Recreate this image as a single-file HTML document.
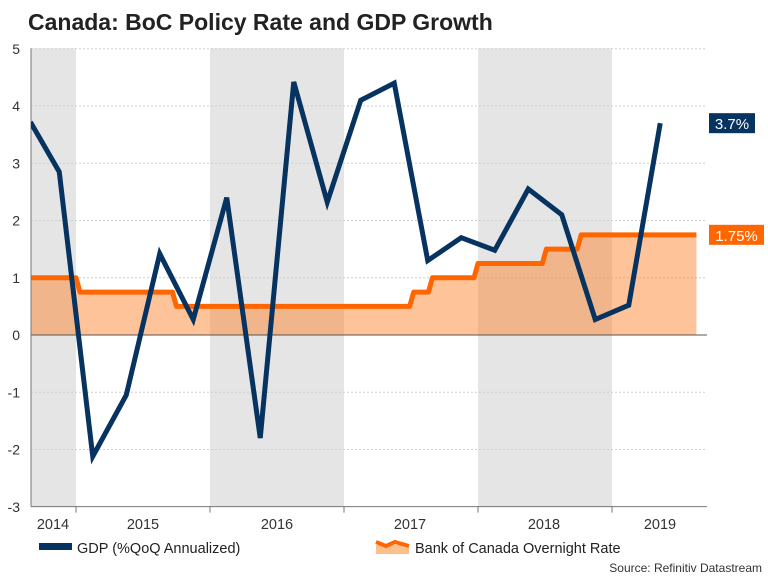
<!DOCTYPE html>
<html><head><meta charset="utf-8"><style>
body{margin:0;background:#fff;font-family:"Liberation Sans",sans-serif}
svg text{font-family:"Liberation Sans",sans-serif}
</style></head><body>
<svg id="c" width="768" height="576" viewBox="0 0 768 576">
<text x="28" y="30" font-size="23" font-weight="bold" fill="#222">Canada: BoC Policy Rate and GDP Growth</text>
</svg>
<script>
const yTicks=[5,4,3,2,1,0,-1,-2,-3];
const years=["2014","2015","2016","2017","2018","2019"];
const shadeBands=[[2014.66,2015],[2016,2017],[2018,2019]];
const gdpDates=[2014.66,2014.875,2015.125,2015.375,2015.625,2015.875,2016.125,2016.375,2016.625,2016.875,2017.125,2017.375,2017.625,2017.875,2018.125,2018.375,2018.625,2018.875,2019.125,2019.36];
const gdpValues=[3.72,2.85,-2.12,-1.05,1.42,0.27,2.4,-1.8,4.42,2.32,4.1,4.4,1.3,1.7,1.48,2.55,2.1,0.27,0.52,3.7];
const rateDates=[2014.66,2015.03,2015.75,2017.52,2017.66,2018.0,2018.51,2018.77];
const rateValues=[1.0,0.75,0.5,0.75,1.0,1.25,1.5,1.75];
const rateEnd=2019.63;
const X0=31,X1=707,Y0=48.3,YB=506.6;
const x=d=>76+(d-2015)*134;
const y=v=>335-v*57.25;
const svg=document.getElementById('c');
const NS='http://www.w3.org/2000/svg';
function mk(t,a,p){const e=document.createElementNS(NS,t);for(const k in a)e.setAttribute(k,a[k]);(p||svg).appendChild(e);return e;}
const defs=mk('defs',{});const cp=mk('clipPath',{id:'pc'},defs);mk('rect',{x:X0,y:0,width:X1-X0,height:576},cp);
shadeBands.forEach(b=>{const r=mk('rect',{x:Math.max(X0,x(b[0])),y:Y0,width:x(b[1])-Math.max(X0,x(b[0])),height:YB-Y0,fill:'#e5e5e5'});

});
yTicks.forEach(v=>{if(v!==0&&v!==-3){const l=mk('line',{x1:X0,x2:X1,y1:y(v),y2:y(v),stroke:'#cfcfcf','stroke-dasharray':'2,2'});

}
const t=mk('text',{x:20,y:y(v)+5,'font-size':14,fill:'#333','text-anchor':'end'});t.textContent=v;

});
let pts=[];
rateDates.forEach((d,i)=>{if(i>0)pts.push([x(d)-4,y(rateValues[i-1])]);pts.push([i>0?x(d):X0,y(rateValues[i])]);});
pts.push([x(rateEnd),y(rateValues[rateValues.length-1])]);
const area=mk('path',{d:'M'+pts.map(p=>p.join(',')).join('L')+`L${x(rateEnd)},${y(0)}L${X0},${y(0)}Z`,fill:'#ff7a1f','fill-opacity':0.45});


const rl=mk('path',{d:'M'+pts.map(p=>p.join(',')).join('L'),fill:'none',stroke:'#ff6600','stroke-width':5,'stroke-linejoin':'round'});


mk('line',{x1:X0,x2:X1,y1:y(0),y2:y(0),stroke:'#555'});
mk('line',{x1:X0,x2:X1,y1:YB,y2:YB,stroke:'#777'});
mk('line',{x1:X0,x2:X0,y1:Y0,y2:YB,stroke:'#777'});
[2015,2016,2017,2018,2019].forEach(d=>mk('line',{x1:x(d),x2:x(d),y1:YB,y2:YB+6,stroke:'#777'}));
const yc=[53,143,277,410,544,660];
years.forEach((s,i)=>{const t=mk('text',{x:yc[i],y:529,'font-size':14.5,fill:'#333','text-anchor':'middle'});t.textContent=s;

});
const g=mk('path',{d:'M'+gdpDates.map((d,i)=>x(d)+','+y(gdpValues[i])).join('L'),fill:'none',stroke:'#06335f','stroke-width':5,'stroke-linejoin':'miter','clip-path':'url(#pc)'});


function box(v,txt,col,w,name){const cy=y(v);mk('rect',{x:709,y:cy-10,width:w,height:20,fill:col});const t=mk('text',{x:709+w/2,y:cy+6,'font-size':15,fill:'#fff','text-anchor':'middle'});t.textContent=txt;

}
box(gdpValues[gdpValues.length-1],gdpValues[gdpValues.length-1]+'%','#06335f',46,'gdp-last-value');
box(rateValues[rateValues.length-1],rateValues[rateValues.length-1].toFixed(2)+'%','#ff6600',55,'rate-last-value');
mk('rect',{x:39,y:543,width:33,height:7,fill:'#06335f'});
let t=mk('text',{x:77,y:553,'font-size':14.5,fill:'#222'});t.textContent='GDP (%QoQ Annualized)';


mk('rect',{x:376,y:545,width:33,height:9,fill:'#fdbf8c'});
mk('path',{d:'M376,542L386,546L395,542L409,546',fill:'none',stroke:'#ff6600','stroke-width':4});
t=mk('text',{x:415,y:553,'font-size':14.5,fill:'#222'});t.textContent='Bank of Canada Overnight Rate';


t=mk('text',{x:762,y:572,'font-size':12,fill:'#333','text-anchor':'end'});t.textContent='Source: Refinitiv Datastream';


</script>
</body></html>
